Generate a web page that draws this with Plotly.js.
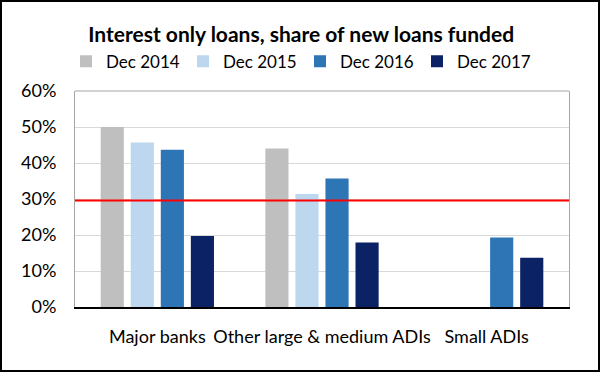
<!DOCTYPE html>
<html><head><meta charset="utf-8">
<script src="https://cdn.plot.ly/plotly-3.0.1.min.js"></script>
<style>
html,body{margin:0;padding:0;background:#fff;}
#wrap{position:absolute;left:0;top:0;width:596px;height:368px;border:2px solid #000;overflow:hidden;}
#chart{position:absolute;left:-2px;top:-2px;width:600px;height:372px;}
</style></head>
<body><div id="wrap"><div id="chart"></div></div>
<script>
const categories = ["Major banks", "Other large & medium ADIs", "Small ADIs"];
const seriesNames = ["Dec 2014", "Dec 2015", "Dec 2016", "Dec 2017"];
const dec2014 = [0.500, 0.440, null];
const dec2015 = [0.457, 0.314, null];
const dec2016 = [0.437, 0.357, 0.193];
const dec2017 = [0.197, 0.179, 0.137];
const benchmark = 0.296;
const yTicks = [0, 0.1, 0.2, 0.3, 0.4, 0.5, 0.6];
const colors = ["#bfbfbf", "#bdd7ee", "#2e75b6", "#0b2265"];

const FONT = "Lato, 'Open Sans', sans-serif";
const series = [dec2014, dec2015, dec2016, dec2017];
const traces = series.map((vals, i) => ({
  type: "bar", name: seriesNames[i], x: categories, y: vals,
  marker: {color: colors[i], line: {width: 0}}, hoverinfo: "none"
}));

const layout = {
  width: 600, height: 372,
  margin: {l: 75, r: 31, t: 91, b: 65},
  paper_bgcolor: "#fff", plot_bgcolor: "#fff",
  font: {family: FONT, size: 18, color: "#000"},
  title: {text: "<b>Interest only loans, share of new loans funded</b>",
          font: {family: FONT, size: 21, color: "#000"},
          x: 0.502, xanchor: "center", xref: "container",
          y: 0.906, yanchor: "middle", yref: "container"},
  barmode: "group", bargap: 0.27, bargroupgap: 0.23,
  showlegend: true,
  legend: {orientation: "h", x: 0.11, xref: "container", xanchor: "left",
           y: 0.834, yref: "container", yanchor: "middle",
           font: {family: FONT, size: 17, color: "#000"},
           entrywidth: 72, entrywidthmode: "pixels",
           itemwidth: 30, traceorder: "normal", bgcolor: "rgba(0,0,0,0)"},
  xaxis: {type: "category", showline: true, linecolor: "#000", linewidth: 2,
          ticks: "", ticklabelstandoff: 12, showgrid: false, zeroline: false,
          tickfont: {family: FONT, size: 18, color: "#000"}, fixedrange: true},
  yaxis: {range: [0, 0.6], tickvals: yTicks, tickformat: ".0%",
          showgrid: true, gridcolor: "#d9d9d9", gridwidth: 1,
          showline: true, linecolor: "#a6a6a6", linewidth: 1, mirror: true,
          zeroline: false, ticks: "", ticklabelstandoff: 14,
          tickfont: {family: FONT, size: 18, color: "#000"}, fixedrange: true},
  shapes: [
    {type: "line", xref: "paper", x0: 0, x1: 1, yref: "y", y0: benchmark, y1: benchmark,
     line: {color: "#ff0000", width: 2}},
    {type: "line", xref: "paper", x0: 0, x1: 1, yref: "paper", y0: 1, y1: 1,
     line: {color: "#a6a6a6", width: 1}}
  ]
};
Plotly.newPlot("chart", traces, layout, {displayModeBar: false, staticPlot: true});
</script></body></html>
